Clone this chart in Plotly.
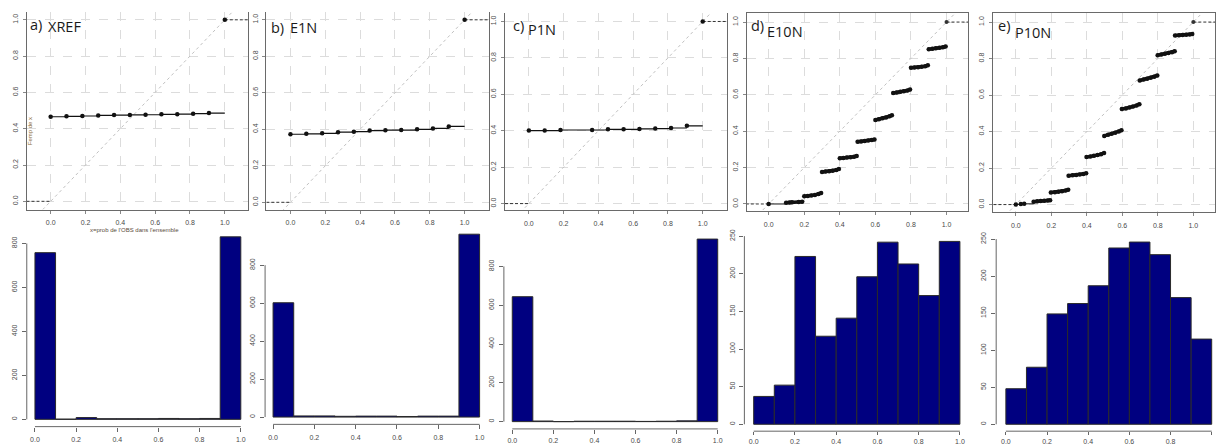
import plotly.graph_objects as go

W, H = 1216, 445

# ---------------- data ----------------
panel_letters = ["a)", "b)", "c)", "d)", "e)"]
panel_names = ["XREF", "E1N", "P1N", "E10N", "P10N"]

# ECDF of the probability of the observation in the ensemble (top row)
xref_x = [0.0, 0.091, 0.182, 0.273, 0.364, 0.455, 0.545, 0.636, 0.727, 0.818, 0.909]
xref_y = [0.466, 0.468, 0.470, 0.473, 0.475, 0.476, 0.477, 0.479, 0.480, 0.483, 0.486]

e1n_x = [0.0, 0.091, 0.182, 0.273, 0.364, 0.455, 0.545, 0.636, 0.727, 0.818, 0.909]
e1n_y = [0.373, 0.375, 0.378, 0.384, 0.387, 0.393, 0.395, 0.396, 0.400, 0.405, 0.416]

p1n_x = [0.0, 0.091, 0.182, 0.364, 0.455, 0.545, 0.636, 0.727, 0.818, 0.909]
p1n_y = [0.401, 0.401, 0.404, 0.404, 0.408, 0.408, 0.410, 0.412, 0.415, 0.427]

e10n_x = [
    [0.0],
    [0.098, 0.117, 0.131, 0.169, 0.188],
    [0.20, 0.22, 0.24, 0.26, 0.28, 0.295],
    [0.30, 0.32, 0.34, 0.36, 0.38, 0.395],
    [0.40, 0.42, 0.44, 0.46, 0.48, 0.495],
    [0.50, 0.52, 0.54, 0.56, 0.58, 0.595],
    [0.60, 0.62, 0.64, 0.66, 0.68, 0.693],
    [0.70, 0.72, 0.74, 0.76, 0.78, 0.795],
    [0.80, 0.82, 0.84, 0.86, 0.88, 0.895],
    [0.90, 0.92, 0.94, 0.96, 0.98, 0.995],
]
e10n_y = [
    [0.0],
    [0.007, 0.008, 0.009, 0.011, 0.012],
    [0.042, 0.044, 0.047, 0.050, 0.055, 0.060],
    [0.176, 0.178, 0.180, 0.183, 0.187, 0.192],
    [0.252, 0.253, 0.255, 0.257, 0.260, 0.264],
    [0.342, 0.344, 0.346, 0.349, 0.352, 0.355],
    [0.462, 0.466, 0.471, 0.476, 0.482, 0.488],
    [0.610, 0.613, 0.617, 0.620, 0.624, 0.629],
    [0.749, 0.750, 0.752, 0.754, 0.757, 0.762],
    [0.851, 0.853, 0.856, 0.859, 0.862, 0.866],
]

p10n_x = [
    [0.0, 0.028, 0.047],
    [0.10, 0.12, 0.14, 0.16, 0.18, 0.193],
    [0.197, 0.22, 0.24, 0.26, 0.28, 0.295],
    [0.297, 0.32, 0.34, 0.36, 0.38, 0.396],
    [0.398, 0.42, 0.44, 0.46, 0.48, 0.497],
    [0.498, 0.52, 0.54, 0.56, 0.58, 0.595],
    [0.597, 0.62, 0.64, 0.66, 0.68, 0.696],
    [0.698, 0.72, 0.74, 0.76, 0.78, 0.797],
    [0.799, 0.82, 0.84, 0.86, 0.88, 0.895],
    [0.897, 0.92, 0.94, 0.96, 0.98, 0.994],
]
p10n_y = [
    [0.0, 0.003, 0.004],
    [0.016, 0.018, 0.019, 0.021, 0.022, 0.024],
    [0.066, 0.068, 0.070, 0.073, 0.077, 0.081],
    [0.158, 0.160, 0.162, 0.165, 0.168, 0.171],
    [0.260, 0.263, 0.267, 0.271, 0.276, 0.282],
    [0.376, 0.382, 0.388, 0.394, 0.400, 0.407],
    [0.523, 0.527, 0.532, 0.537, 0.543, 0.550],
    [0.680, 0.685, 0.690, 0.695, 0.700, 0.707],
    [0.818, 0.822, 0.826, 0.830, 0.835, 0.840],
    [0.927, 0.928, 0.929, 0.930, 0.932, 0.934],
]

# Histograms (bottom row)
bin_left = [0.0, 0.1, 0.2, 0.3, 0.4, 0.5, 0.6, 0.7, 0.8, 0.9]
bin_width = 0.1
xref_counts = [758, 1, 8, 3, 3, 3, 4, 3, 4, 830]
e1n_counts = [602, 6, 6, 4, 5, 5, 3, 5, 5, 963]
p1n_counts = [644, 3, 0, 2, 2, 2, 1, 2, 4, 941]
e10n_counts = [37, 52, 223, 117, 141, 196, 242, 213, 171, 243]
p10n_counts = [48, 77, 149, 163, 187, 238, 246, 229, 171, 115]

top_ticks = [0.0, 0.2, 0.4, 0.6, 0.8, 1.0]
top_ticktext = ["0.0", "0.2", "0.4", "0.6", "0.8", "1.0"]
hist_yticks_big = [0, 200, 400, 600, 800]
hist_yticks_small = [0, 50, 100, 150, 200, 250]

xlabel_a = "x=prob de l'OBS dans l'ensemble"
ylabel_a = "Femp de x"

# ---------------- geometry (pixels) ----------------
# box = (left, right, top, bottom); xcal = pixel of x=0 and x=1; ycal = pixel of y=0 and y=1
top_geom = [
    dict(box=(27.0, 248.0, 7.6, 207.3), xcal=(50.7, 225.0), ycal=(199.0, 15.0), top=False),
    dict(box=(266.7, 489.0, 7.6, 207.5), xcal=(290.7, 465.0), ycal=(200.0, 15.0), top=False),
    dict(box=(505.0, 727.3, 8.5, 208.3), xcal=(529.3, 703.3), ycal=(201.3, 16.7), top=False),
    dict(box=(747.7, 969.0, 8.3, 209.3), xcal=(769.3, 947.3), ycal=(201.7, 17.3), top=True),
    dict(box=(994.0, 1216.0, 8.3, 210.0), xcal=(1016.7, 1194.3), ycal=(202.3, 17.3), top=True),
]
# ycal = (pixel of 0, pixel of ref, ref value); lab = (ticklen, standoff) of x tick labels
hist_geom = [
    dict(box=(26.8, 249.2, 227.6, 427.4), xcal=(35.0, 241.0), ycal=(420.0, 241.7, 800), lab=(4, 2)),
    dict(box=(265.3, 488.3, 224.9, 425.1), xcal=(273.3, 480.0), ycal=(417.7, 263.7, 800), lab=(4, 2)),
    dict(box=(504.3, 726.5, 229.9, 429.7), xcal=(512.7, 718.3), ycal=(422.3, 265.0, 800), lab=(4, 1)),
    dict(box=(745.0, 968.9, 232.2, 432.0), xcal=(754.3, 960.7), ycal=(425.0, 234.3, 250), lab=(3, 0)),
    dict(box=(997.0, 1216.0, 232.9, 432.0), xcal=(1006.7, 1212.7), ycal=(425.0, 237.3, 250), lab=(3, 0)),
]


def px2val(p, p0, v0, p1, v1):
    return v0 + (p - p0) * (v1 - v0) / (p1 - p0)


def xdom(l, r):
    return [max(0.0, l / W), min(1.0, r / W)]


def ydom(t, b):
    return [max(0.0, 1 - b / H), min(1.0, 1 - t / H)]


TICKFONT = dict(family="Liberation Sans, Arial, sans-serif", size=7, color="#4a4a4a")
FRAME = "#6a6a6a"

fig = go.Figure()
layout = {}
shapes = []
annotations = []

top_data = [
    ("step", xref_x, xref_y),
    ("step", e1n_x, e1n_y),
    ("step", p1n_x, p1n_y),
    ("cluster", e10n_x, e10n_y),
    ("cluster", p10n_x, p10n_y),
]
hist_data = [xref_counts, e1n_counts, p1n_counts, e10n_counts, p10n_counts]

for i in range(5):
    g = top_geom[i]
    l, r, t, b = g["box"]
    xr = [px2val(l, g["xcal"][0], 0, g["xcal"][1], 1), px2val(r, g["xcal"][0], 0, g["xcal"][1], 1)]
    yr = [px2val(b, g["ycal"][0], 0, g["ycal"][1], 1), px2val(t, g["ycal"][0], 0, g["ycal"][1], 1)]
    n = i + 1
    xa = "x" if n == 1 else f"x{n}"
    ya = "y" if n == 1 else f"y{n}"
    layout["xaxis" if n == 1 else f"xaxis{n}"] = dict(
        domain=xdom(l, r), range=xr, anchor=ya, tickvals=top_ticks, ticktext=top_ticktext,
        ticks="outside", ticklen=3, tickcolor="#888", tickfont=TICKFONT,
        showline=True, linecolor=FRAME, linewidth=1, mirror=g["top"],
        showgrid=True, gridcolor="#dcdcdc", griddash="dash", gridwidth=1,
        zeroline=False, ticklabelstandoff=3, fixedrange=True,
    )
    layout["yaxis" if n == 1 else f"yaxis{n}"] = dict(
        domain=ydom(t, b), range=yr, anchor=xa, tickvals=top_ticks, ticktext=top_ticktext,
        ticks="outside", ticklen=3, tickcolor="#888", tickfont=TICKFONT, tickangle=-90,
        showline=True, linecolor=FRAME, linewidth=1, mirror=True,
        showgrid=True, gridcolor="#dcdcdc", griddash="dash", gridwidth=1,
        zeroline=False, ticklabelstandoff=2, fixedrange=True,
    )
    # identity reference line
    fig.add_trace(go.Scatter(x=[-1, 2], y=[-1, 2], mode="lines", xaxis=xa, yaxis=ya,
                             line=dict(color="#c0c0c0", width=1, dash="dot"), hoverinfo="skip"))
    # outer dashed parts of the step function
    fig.add_trace(go.Scatter(x=[-1, 0], y=[0, 0], mode="lines", xaxis=xa, yaxis=ya,
                             line=dict(color="#333", width=1, dash="3px,2px"), hoverinfo="skip"))
    fig.add_trace(go.Scatter(x=[1, 2], y=[1, 1], mode="lines", xaxis=xa, yaxis=ya,
                             line=dict(color="#333", width=1, dash="3px,2px"), hoverinfo="skip"))

    kind, dx, dy = top_data[i]
    if kind == "step":
        sx, sy = [], []
        for k in range(len(dx)):
            x_next = dx[k + 1] if k + 1 < len(dx) else 1.0
            sx += [dx[k], x_next, None]
            sy += [dy[k], dy[k], None]
        fig.add_trace(go.Scatter(x=sx, y=sy, mode="lines", xaxis=xa, yaxis=ya,
                                 line=dict(color="#111", width=1.2), hoverinfo="skip"))
        fig.add_trace(go.Scatter(x=dx + [1.0], y=dy + [1.0], mode="markers", xaxis=xa, yaxis=ya,
                                 marker=dict(color="#111", size=4.5), hoverinfo="skip"))
    else:
        for k in range(len(dx)):
            cx, cy = dx[k], dy[k]
            x_next = dx[k + 1][0] if k + 1 < len(dx) else 1.0
            # thin horizontal extension to next jump
            fig.add_trace(go.Scatter(x=[cx[-1], x_next], y=[cy[-1], cy[-1]], mode="lines",
                                     xaxis=xa, yaxis=ya, line=dict(color="#111", width=1),
                                     hoverinfo="skip"))
            fig.add_trace(go.Scatter(x=cx, y=cy, mode="lines+markers", xaxis=xa, yaxis=ya,
                                     line=dict(color="#111", width=3.5 if len(cx) > 4 else 1),
                                     marker=dict(color="#111", size=4.5), hoverinfo="skip"))
        fig.add_trace(go.Scatter(x=[1.0], y=[1.0], mode="markers", xaxis=xa, yaxis=ya,
                                 marker=dict(color="#333", size=4), hoverinfo="skip"))

    # histogram panel
    h = hist_geom[i]
    l, r, t, b = h["box"]
    p0, pref, vref = h["ycal"]
    hxr = [px2val(l, h["xcal"][0], 0, h["xcal"][1], 1), px2val(r, h["xcal"][0], 0, h["xcal"][1], 1)]
    hyr = [px2val(b, p0, 0, pref, vref), px2val(t, p0, 0, pref, vref)]
    m = i + 6
    hxa, hya = f"x{m}", f"y{m}"
    yt = hist_yticks_big if vref == 800 else hist_yticks_small
    tl, so = h["lab"]
    layout[f"xaxis{m}"] = dict(
        domain=xdom(l, r), range=hxr, anchor=hya, tickvals=top_ticks, ticktext=top_ticktext,
        ticks="outside", ticklen=tl, tickcolor="#666", tickfont=TICKFONT,
        showline=False, showgrid=False, zeroline=False, ticklabelstandoff=so, fixedrange=True,
    )
    layout[f"yaxis{m}"] = dict(
        domain=ydom(t, b), range=hyr, anchor=hxa, tickvals=yt, ticktext=[str(v) for v in yt],
        ticks="outside", ticklen=4, tickcolor="#666", tickfont=TICKFONT, tickangle=-90,
        showline=False, showgrid=False, zeroline=False, ticklabelstandoff=2, fixedrange=True,
    )
    fig.add_trace(go.Bar(x=bin_left, y=hist_data[i], width=[bin_width] * len(bin_left), offset=0,
                         xaxis=hxa, yaxis=hya, marker=dict(color="#000080",
                         line=dict(color="#2a2a2a", width=1)), hoverinfo="skip"))
    # R-style axis lines spanning the ticks only
    shapes.append(dict(type="line", xref=hxa, yref=f"{hya} domain", x0=0, x1=1, y0=0, y1=0,
                       line=dict(color="#666", width=1)))
    shapes.append(dict(type="line", xref=f"{hxa} domain", yref=hya, x0=0, x1=0, y0=yt[0], y1=yt[-1],
                       line=dict(color="#666", width=1)))

# panel titles
title_pos = [
    ((29.3, 20.0), (46.7, 21.7)),
    ((270.0, 22.5), (289.0, 22.5)),
    ((512.7, 20.5), (527.7, 24.5)),
    ((750.7, 21.0), (767.0, 26.5)),
    ((998.3, 21.0), (1015.0, 27.5)),
]
TFONT = dict(family="Open Sans, Noto Sans, sans-serif", size=14.5, color="#1a1a1a")
for i in range(5):
    (lx, ly), (nx, ny) = title_pos[i]
    annotations.append(dict(text=panel_letters[i], x=lx / W, y=1 - ly / H, xref="paper", yref="paper",
                            xanchor="left", yanchor="middle", showarrow=False, font=TFONT, borderpad=0))
    annotations.append(dict(text=panel_names[i], x=nx / W, y=1 - ny / H, xref="paper", yref="paper",
                            xanchor="left", yanchor="middle", showarrow=False, font=TFONT, borderpad=0))

# axis labels of panel a
annotations.append(dict(text=xlabel_a, x=135 / W, y=1 - 228.5 / H, xref="paper", yref="paper",
                        xanchor="center", yanchor="middle", showarrow=False,
                        font=dict(family="Liberation Sans, Arial", size=6, color="#5a4a3a")))
annotations.append(dict(text=ylabel_a, x=30 / W, y=1 - 128 / H, xref="paper", yref="paper",
                        xanchor="center", yanchor="middle", showarrow=False, textangle=-90,
                        font=dict(family="Liberation Sans, Arial", size=6, color="#8a6a3a")))

fig.update_layout(
    width=W, height=H, margin=dict(l=0, r=0, t=0, b=0),
    paper_bgcolor="white", plot_bgcolor="white", showlegend=False,
    bargap=0, shapes=shapes, annotations=annotations, **layout,
)

fig.write_html(
    "out.html",
    config={"displayModeBar": False, "staticPlot": True},
    post_script="document.body.style.margin='0';document.body.style.padding='0';"
                "document.body.style.overflow='hidden';",
)
